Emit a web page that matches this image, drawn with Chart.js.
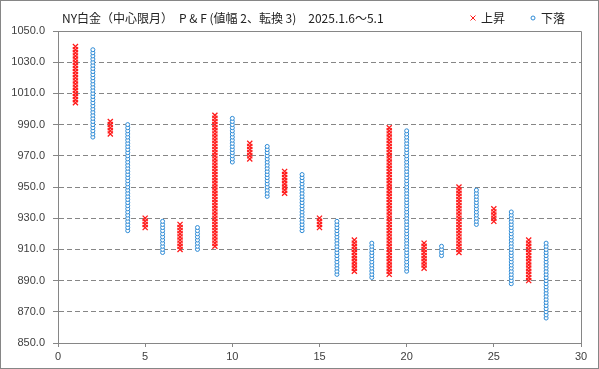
<!DOCTYPE html>
<html>
<head>
<meta charset="utf-8">
<script src="https://cdn.jsdelivr.net/npm/chart.js@4/dist/chart.umd.min.js"></script>
<style>
  html, body { margin: 0; padding: 0; background: #fff; }
  #wrap { width: 599px; height: 369px; position: relative; }
</style>
</head>
<body>
<div id="wrap"><canvas id="pf" width="599" height="369"></canvas></div>
<script>
// P&F columns: kind, lowest box, highest box
const titleText = 'NY白金（中心限月）　P & F (値幅 2、転換 3)　2025.1.6～5.1';
const legendUp = '上昇';
const legendDown = '下落';
const boxSize = 2;
const colKind = ['X','O','X','O','X','O','X','O','X','O','X','O','X','O',
                 'X','O','X','O','X','O','X','O','X','O','X','O','X','O'];
const colLow  = [1004, 982, 984, 922, 924, 908, 910, 910, 912, 966, 968, 944, 946, 922,
                 924, 894, 896, 892, 894, 896, 898, 906, 908, 926, 928, 888, 890, 866];
const colHigh = [1040,1038, 992, 990, 930, 928, 926, 924, 996, 994, 978, 976, 960, 958,
                 930, 928, 916, 914, 988, 986, 914, 912, 950, 948, 936, 934, 916, 914];
const xTicks = [0, 5, 10, 15, 20, 25, 30];
const yTicks = [850, 870, 890, 910, 930, 950, 970, 990, 1010, 1030, 1050];

// one point per box
const upPts = [], downPts = [];
colKind.forEach((k, i) => {
  for (let v = colLow[i]; v <= colHigh[i]; v += boxSize) {
    (k === 'X' ? upPts : downPts).push({x: i + 1, y: v});
  }
});

const RED = '#ff1a1a', BLUE = '#2e8bd6', GRID = '#868686', TXT = '#404040';

const frame = {
  id: 'frame',
  beforeDraw(chart) {
    const c = chart.ctx;
    c.save();
    c.fillStyle = '#fff';
    c.fillRect(0, 0, chart.width, chart.height);
    c.strokeStyle = GRID; c.lineWidth = 1;
    c.strokeRect(0.5, 0.5, chart.width - 1, chart.height - 1);
    c.restore();
  },
  afterDraw(chart) {
    const c = chart.ctx, a = chart.chartArea;
    c.save();
    c.strokeStyle = GRID; c.lineWidth = 1;
    c.beginPath();
    c.moveTo(Math.round(a.left) + 0.5, Math.round(a.top) + 0.5);
    c.lineTo(Math.round(a.right) + 0.5, Math.round(a.top) + 0.5);
    c.lineTo(Math.round(a.right) + 0.5, Math.round(a.bottom) + 0.5);
    c.stroke();
    // title
    c.fillStyle = '#222';
    c.font = '12px "Noto Sans CJK JP"';
    c.textBaseline = 'middle';
    c.fillText(titleText, 62, 18);
    // legend
    c.strokeStyle = RED;
    c.beginPath();
    c.moveTo(470.5, 15.5); c.lineTo(475.5, 20.5);
    c.moveTo(475.5, 15.5); c.lineTo(470.5, 20.5);
    c.stroke();
    c.fillText(legendUp, 481, 18);
    c.strokeStyle = BLUE;
    c.beginPath(); c.arc(533, 18, 2, 0, Math.PI * 2); c.stroke();
    c.fillText(legendDown, 541, 18);
    c.restore();
  }
};

new Chart(document.getElementById('pf'), {
  type: 'scatter',
  data: {
    datasets: [
      { label: legendUp, data: upPts, pointStyle: 'crossRot', radius: 3.6,
        borderColor: RED, backgroundColor: RED, borderWidth: 1.3 },
      { label: legendDown, data: downPts, pointStyle: 'circle', radius: 2,
        borderColor: BLUE, backgroundColor: '#fff', borderWidth: 1 }
    ]
  },
  options: {
    responsive: false,
    animation: false,
    devicePixelRatio: 1,
    layout: { padding: { top: 31, right: 18, bottom: 0, left: 0 } },
    plugins: { legend: { display: false }, title: { display: false }, tooltip: { enabled: false } },
    scales: {
      x: {
        type: 'linear', min: 0, max: 30,
        afterBuildTicks: s => { s.ticks = xTicks.map(v => ({value: v})); },
        afterFit: s => { s.height = 26; },
        ticks: { color: TXT, font: { family: 'Liberation Sans', size: 11 }, padding: 3, maxRotation: 0 },
        grid: { drawOnChartArea: false, color: GRID, tickLength: 4 },
        border: { color: GRID }
      },
      y: {
        min: 850, max: 1050,
        afterBuildTicks: s => { s.ticks = yTicks.map(v => ({value: v})); },
        afterFit: s => { s.width = 58; },
        ticks: { color: TXT, font: { family: 'Liberation Sans', size: 11 }, padding: 8,
                 callback: v => Number(v).toFixed(1) },
        grid: { color: GRID, tickLength: 5, tickBorderDash: [] },
        border: { color: GRID, dash: [5, 3] }
      }
    }
  },
  plugins: [frame]
});
</script>
</body>
</html>
